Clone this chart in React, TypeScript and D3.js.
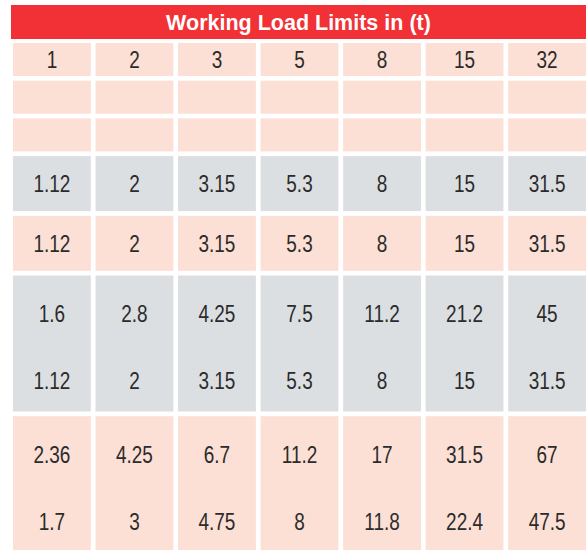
import React, { useEffect, useRef } from 'react';
import * as d3 from 'd3';

// Table content
const title = 'Working Load Limits in (t)';
const sizes = ['1', '2', '3', '5', '8', '15', '32'];

// each row: list of lines per cell (empty rows have no lines)
const rowLines: string[][][] = [
  [[], [], [], [], [], [], []],
  [[], [], [], [], [], [], []],
  [['1.12'], ['2'], ['3.15'], ['5.3'], ['8'], ['15'], ['31.5']],
  [['1.12'], ['2'], ['3.15'], ['5.3'], ['8'], ['15'], ['31.5']],
  [['1.6', '1.12'], ['2.8', '2'], ['4.25', '3.15'], ['7.5', '5.3'], ['11.2', '8'], ['21.2', '15'], ['45', '31.5']],
  [['2.36', '1.7'], ['4.25', '3'], ['6.7', '4.75'], ['11.2', '8'], ['17', '11.8'], ['31.5', '22.4'], ['67', '47.5']],
];
const rowFill = ['pink', 'pink', 'gray', 'pink', 'gray', 'pink'];

// layout
const rowHeights = [33, 33, 33, 55, 55, 136, 136];
const GAP = 4.7;
const COLORS: Record<string, string> = { pink: '#fcdfd5', gray: '#dcdfe2' };

export default function App() {
  const svgRef = useRef<SVGSVGElement>(null);

  useEffect(() => {
    if (!svgRef.current) return;
    const svg = d3.select(svgRef.current);
    svg.selectAll('*').remove();

    const x = d3.scaleBand<string>()
      .domain(sizes)
      .range([13, 586])
      .paddingInner(0.057)
      .paddingOuter(0);

    // row tops
    const tops: number[] = [];
    let y = 43;
    rowHeights.forEach(h => { tops.push(y); y += h + GAP; });

    // Title bar
    svg.append('rect')
      .attr('x', 11).attr('y', 5)
      .attr('width', 575).attr('height', 34)
      .attr('fill', '#f23137');
    svg.append('text')
      .attr('x', 298.5).attr('y', 29.5)
      .attr('text-anchor', 'middle')
      .attr('fill', '#fff')
      .style('font-family', 'Arial, "Liberation Sans", sans-serif')
      .style('font-weight', 'bold')
      .style('font-size', '21.5px')
      .text(title);

    const drawText = (cx: number, by: number, s: string) => {
      svg.append('text')
        .attr('transform', `translate(${cx},${by}) scale(0.79,1)`)
        .attr('text-anchor', 'middle')
        .attr('fill', '#2b2b2b')
        .style('font-family', 'Arial, "Liberation Sans", sans-serif')
        .style('font-size', '24px')
        .text(s);
    };

    // header row with sizes
    sizes.forEach(s => {
      svg.append('rect')
        .attr('x', x(s)!).attr('y', tops[0])
        .attr('width', x.bandwidth()).attr('height', rowHeights[0])
        .attr('fill', COLORS.pink);
      drawText(x(s)! + x.bandwidth() / 2, tops[0] + rowHeights[0] / 2 + 8.8, s);
    });

    rowLines.forEach((cells, r) => {
      const ri = r + 1;
      const top = tops[ri];
      const h = rowHeights[ri];
      cells.forEach((lines, c) => {
        const s = sizes[c];
        svg.append('rect')
          .attr('x', x(s)!).attr('y', top)
          .attr('width', x.bandwidth()).attr('height', h)
          .attr('fill', COLORS[rowFill[r]]);
        const cx = x(s)! + x.bandwidth() / 2;
        if (lines.length === 1) {
          drawText(cx, top + h / 2 + 8.8, lines[0]);
        } else {
          lines.forEach((l, i) => drawText(cx, top + 46.5 + i * 67, l));
        }
      });
    });
  }, []);

  return (
    <div style={{ position: 'absolute', left: 0, top: 0, background: '#fff' }}>
      <svg ref={svgRef} width={588} height={550} style={{ display: 'block' }} />
    </div>
  );
}
